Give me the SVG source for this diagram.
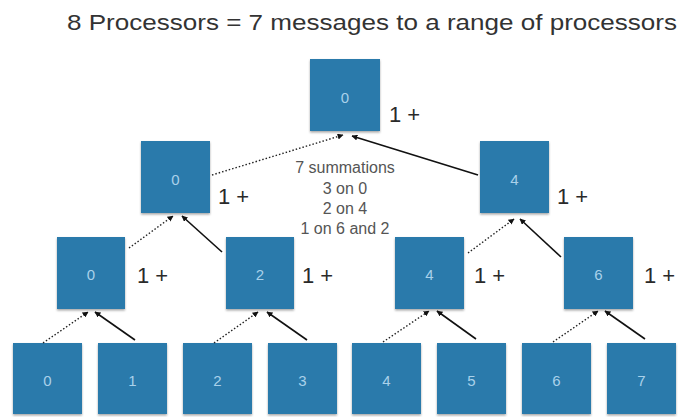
<svg xmlns="http://www.w3.org/2000/svg" width="683" height="417" viewBox="0 0 683 417">
  <defs>
    <filter id="shadow" x="-10%" y="-10%" width="120%" height="130%">
      <feDropShadow dx="0" dy="1.5" stdDeviation="1" flood-color="#000" flood-opacity="0.35"/>
    </filter>
    <marker id="head" viewBox="0 0 10 10" refX="9" refY="5" markerWidth="6" markerHeight="6" orient="auto" markerUnits="userSpaceOnUse">
      <path d="M0,0 L10,5 L0,10 z" fill="#111"/>
    </marker>
  </defs>
  <style>
    .box { fill: #2a7aab; filter: url(#shadow); }
    .id { font-family: "Liberation Sans", Arial, sans-serif; font-size: 15px; fill: #a9d1ea; text-anchor: middle; }
    .plus { font-family: "Liberation Sans", Arial, sans-serif; font-size: 22px; fill: #2a2a2a; }
    .note { font-family: "Liberation Sans", Arial, sans-serif; font-size: 16px; fill: #555; text-anchor: middle; }
    .title { font-family: "Liberation Sans", Arial, sans-serif; font-size: 22px; fill: #333; }
    .solid { stroke: #111; stroke-width: 1.6; fill: none; marker-end: url(#head); }
    .dot { stroke: #222; stroke-width: 1.4; stroke-dasharray: 1.5 2; fill: none; marker-end: url(#head); }
  </style>

  <text class="title" x="67" y="30" textLength="610" lengthAdjust="spacingAndGlyphs">8 Processors = 7 messages to a range of processors</text>

  <!-- level 0 -->
  <g id="n-top-0">
    <rect class="box" x="310" y="59" width="70" height="72"/>
    <text class="id" x="345" y="103">0</text>
    <text class="plus" x="389" y="122">1 +</text>
  </g>

  <!-- level 1 -->
  <g id="n-l1-0">
    <rect class="box" x="141" y="141" width="69" height="72"/>
    <text class="id" x="175.5" y="185">0</text>
    <text class="plus" x="218" y="204">1 +</text>
  </g>
  <g id="n-l1-4">
    <rect class="box" x="480" y="141" width="69" height="72"/>
    <text class="id" x="514.5" y="185">4</text>
    <text class="plus" x="557" y="204">1 +</text>
  </g>

  <!-- level 2 -->
  <g id="n-l2-0">
    <rect class="box" x="57" y="237" width="68" height="72"/>
    <text class="id" x="91" y="280">0</text>
    <text class="plus" x="137" y="283">1 +</text>
  </g>
  <g id="n-l2-2">
    <rect class="box" x="226" y="237" width="68" height="72"/>
    <text class="id" x="260" y="280">2</text>
    <text class="plus" x="302" y="283">1 +</text>
  </g>
  <g id="n-l2-4">
    <rect class="box" x="395" y="237" width="69" height="72"/>
    <text class="id" x="429.5" y="280">4</text>
    <text class="plus" x="474" y="283">1 +</text>
  </g>
  <g id="n-l2-6">
    <rect class="box" x="564" y="237" width="69" height="72"/>
    <text class="id" x="598.5" y="280">6</text>
    <text class="plus" x="644" y="283">1 +</text>
  </g>

  <!-- level 3 (leaves) -->
  <g id="n-leaf-0"><rect class="box" x="13" y="343" width="69" height="71"/><text class="id" x="47.5" y="386">0</text></g>
  <g id="n-leaf-1"><rect class="box" x="98" y="343" width="69" height="71"/><text class="id" x="132.5" y="386">1</text></g>
  <g id="n-leaf-2"><rect class="box" x="183" y="343" width="69" height="71"/><text class="id" x="217.5" y="386">2</text></g>
  <g id="n-leaf-3"><rect class="box" x="268" y="343" width="69" height="71"/><text class="id" x="302.5" y="386">3</text></g>
  <g id="n-leaf-4"><rect class="box" x="352" y="343" width="69" height="71"/><text class="id" x="386.5" y="386">4</text></g>
  <g id="n-leaf-5"><rect class="box" x="437" y="343" width="69" height="71"/><text class="id" x="471.5" y="386">5</text></g>
  <g id="n-leaf-6"><rect class="box" x="522" y="343" width="69" height="71"/><text class="id" x="556.5" y="386">6</text></g>
  <g id="n-leaf-7"><rect class="box" x="607" y="343" width="69" height="71"/><text class="id" x="641.5" y="386">7</text></g>

  <g id="summary">
    <text class="note" x="345" y="173">7 summations</text>
    <text class="note" x="345" y="194">3 on 0</text>
    <text class="note" x="345" y="214">2 on 4</text>
    <text class="note" x="345" y="234">1 on 6 and 2</text>
  </g>

  <g id="connectors">
    <!-- into top node -->
    <line class="dot" x1="212" y1="175" x2="343" y2="135"/>
    <line class="solid" x1="478" y1="175" x2="352" y2="136"/>
    <!-- into level 1 -->
    <line class="dot" x1="129" y1="248" x2="173" y2="216"/>
    <line class="solid" x1="222" y1="252" x2="182" y2="216"/>
    <line class="dot" x1="468" y1="253" x2="514" y2="219"/>
    <line class="solid" x1="561" y1="257" x2="520" y2="219"/>
    <!-- into level 2 -->
    <line class="dot" x1="43" y1="343" x2="88" y2="312"/>
    <line class="solid" x1="135" y1="340" x2="95" y2="312"/>
    <line class="dot" x1="214" y1="343" x2="258" y2="312"/>
    <line class="solid" x1="307" y1="340" x2="267" y2="312"/>
    <line class="dot" x1="383" y1="342" x2="429" y2="311"/>
    <line class="solid" x1="476" y1="339" x2="437" y2="311"/>
    <line class="dot" x1="553" y1="342" x2="598" y2="311"/>
    <line class="solid" x1="645" y1="339" x2="605" y2="311"/>
  </g>
</svg>
